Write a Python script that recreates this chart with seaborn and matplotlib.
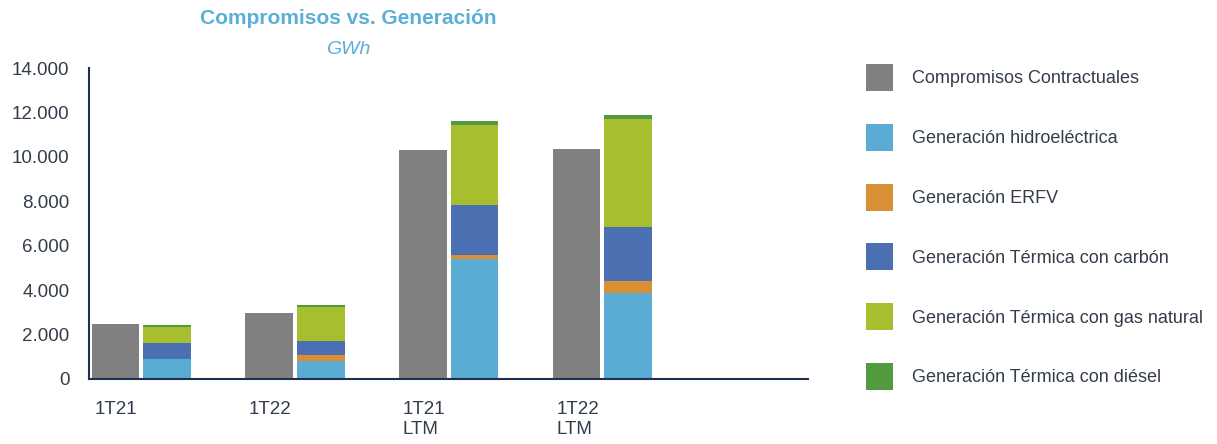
import matplotlib
matplotlib.use("Agg")
import matplotlib.pyplot as plt
from matplotlib.patches import Patch
import numpy as np
import pandas as pd
import seaborn as sns

# Data (GWh)
periodos = ["1T21", "1T22", "1T21\nLTM", "1T22\nLTM"]
compromisos = [2480, 2970, 10300, 10350]
hidro = [900, 810, 5400, 3870]
erfv = [0, 270, 180, 540]
carbon = [720, 630, 2250, 2430]
gas = [720, 1530, 3600, 4860]
diesel = [90, 90, 180, 180]

series_names = ["Compromisos Contractuales", "Generación hidroeléctrica", "Generación ERFV",
                "Generación Térmica con carbón", "Generación Térmica con gas natural",
                "Generación Térmica con diésel"]
colors = ["#808080", "#5bacd4", "#d98f33", "#4a70b1", "#a7be2f", "#519a3f"]

sns.set_theme(style="white")
plt.rcParams["font.family"] = ["Liberation Sans", "DejaVu Sans"]
text_col = "#333d4a"
blue_title = "#5aafd8"

fig = plt.figure(figsize=(12.17, 4.44), dpi=100)
ax = fig.add_axes([0.0731, 0.1464, 0.591, 0.7004])

pos = np.arange(len(periodos))
off = 0.168
w = 0.31

# gray bars (commitments)
df_c = pd.DataFrame({"x": pos - off, "y": compromisos})
sns.barplot(data=df_c, x="x", y="y", native_scale=True, width=w, color=colors[0],
            saturation=1, linewidth=0, ax=ax)

# stacked generation: draw cumulative totals from the top down
layers = [hidro, erfv, carbon, gas, diesel]
cum = np.cumsum(np.array(layers), axis=0)
for k in range(len(layers) - 1, -1, -1):
    df_g = pd.DataFrame({"x": pos + off, "y": cum[k]})
    sns.barplot(data=df_g, x="x", y="y", native_scale=True, width=w, color=colors[k + 1],
                saturation=1, linewidth=0, ax=ax)

ax.set_xlim(-0.34, 4.34)
ax.set_ylim(0, 14000)
ax.set_yticks(np.arange(0, 14001, 2000))
ax.set_yticklabels([f"{v:,}".replace(",", ".") for v in range(0, 14001, 2000)])
ax.set_xticks(pos - 0.30)
ax.set_xticklabels(periodos, ha="left", va="top", linespacing=1.2)
ax.set_xlabel("")
ax.set_ylabel("")
ax.tick_params(axis="y", length=0, pad=14, labelsize=13.5, labelcolor=text_col)
ax.tick_params(axis="x", length=0, pad=16, labelsize=13.5, labelcolor=text_col)

for s in ["top", "right"]:
    ax.spines[s].set_visible(False)
for s in ["left", "bottom"]:
    ax.spines[s].set_color("#1f3050")
    ax.spines[s].set_linewidth(1.5)

fig.text(348 / 1217, 1 - 19 / 444, "Compromisos vs. Generación", ha="center", va="center",
         fontsize=15, fontweight="bold", color=blue_title)
fig.text(348 / 1217, 1 - 50 / 444, "GWh", ha="center", va="center",
         fontsize=14, fontstyle="italic", color=blue_title)

handles = [Patch(facecolor=c, edgecolor="none") for c in colors]
fig.legend(handles, series_names, loc="upper left", bbox_to_anchor=(866 / 1217, 1 - 64 / 444),
           frameon=False, fontsize=13, handlelength=1.5, handleheight=1.92,
           handletextpad=1.05, labelspacing=1.82, borderpad=0, borderaxespad=0,
           labelcolor=text_col)

fig.savefig("out.png", dpi=100)
